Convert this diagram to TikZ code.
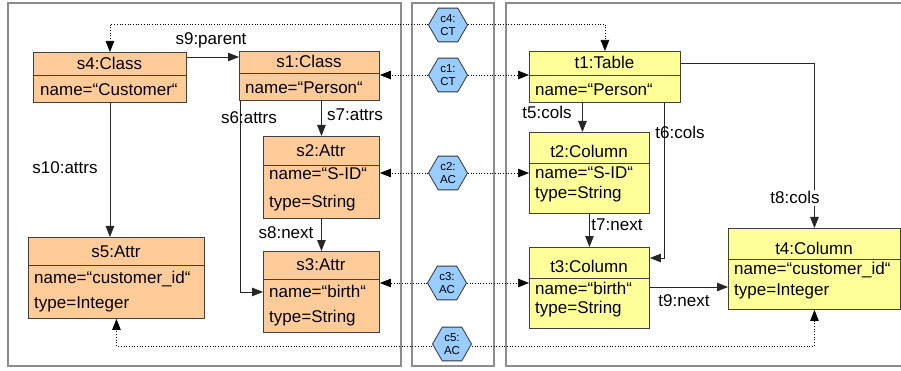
\documentclass[tikz,border=0pt]{standalone}
\usepackage{fontspec}
\setmainfont{Liberation Sans}
\usetikzlibrary{arrows.meta,shapes.geometric}
\definecolor{orng}{HTML}{FFCC99}
\definecolor{yelw}{HTML}{FFFF99}
\definecolor{hexb}{HTML}{99CCFF}
\begin{document}
\begin{tikzpicture}[x=1pt,y=-1pt,
 panel/.style={draw=black!45, line width=1.4pt},
 box/.style={draw=black!75, line width=0.9pt, inner sep=0pt, anchor=north west},
 sbox/.style={box, fill=orng},
 tbox/.style={box, fill=yelw},
 div/.style={draw=black!75, line width=0.9pt},
 ttl/.style={font=\fontsize{17}{20}\selectfont, inner sep=0pt, anchor=base},
 attr/.style={font=\fontsize{17}{20}\selectfont, inner sep=0pt, anchor=base west},
 lbl/.style={font=\fontsize{17}{20}\selectfont, inner sep=0pt, anchor=base},
 conn/.style={draw=black!85, line width=0.8pt},
 arr/.style={conn, -{Triangle[length=11pt,width=8.5pt]}},
 corr/.style={draw=black, line width=0.7pt, dotted},
 carr/.style={corr, -{Triangle[length=11pt,width=8.5pt]}},
 hexa/.style={regular polygon, regular polygon sides=6, minimum size=39pt, inner sep=0pt, draw=black!80, line width=0.8pt, fill=hexb},
 hext/.style={font=\fontsize{11.5}{13.5}\selectfont, align=center, inner sep=0pt}]
\useasboundingbox (0,0) rectangle (901,371);
\fill[white] (0,0) rectangle (901,371);
% panels
\draw[panel] (8,3) rectangle (401,366);
\draw[panel] (412,3) rectangle (494,366);
\draw[panel] (506,3) rectangle (920,366);

% source boxes
\node[sbox, minimum width=153pt, minimum height=50pt] (s4) at (33,52) {};
\draw[div] (s4.west |- 0,75) -- (s4.east |- 0,75);
\node[ttl] (s4h) at (109.5,70) {s4:Class};
\node[attr] (s4a) at (40,96) {name=“Customer“};

\node[sbox, minimum width=140pt, minimum height=49pt] (s1) at (239,51) {};
\draw[div] (s1.west |- 0,73) -- (s1.east |- 0,73);
\node[ttl] (s1h) at (309,68) {s1:Class};
\node[attr] (s1a) at (245,94) {name=“Person“};

\node[sbox, minimum width=116pt, minimum height=82pt] (s2) at (263,136) {};
\draw[div] (s2.west |- 0,165) -- (s2.east |- 0,165);
\node[ttl] (s2h) at (321,157) {s2:Attr};
\node[attr] (s2a) at (269,180) {name=“S-ID“};
\node[attr] (s2b) at (269,208) {type=String};

\node[sbox, minimum width=116pt, minimum height=81pt] (s3) at (263,251) {};
\draw[div] (s3.west |- 0,279) -- (s3.east |- 0,279);
\node[ttl] (s3h) at (321,270) {s3:Attr};
\node[attr] (s3a) at (269,297) {name=“birth“};
\node[attr] (s3b) at (269,322) {type=String};

\node[sbox, minimum width=176pt, minimum height=81pt] (s5) at (28,237) {};
\draw[div] (s5.west |- 0,265) -- (s5.east |- 0,265);
\node[ttl] (s5h) at (116,257) {s5:Attr};
\node[attr] (s5a) at (34,283) {name=“customer\_id“};
\node[attr] (s5b) at (34,308) {type=Integer};

% target boxes
\node[tbox, minimum width=151pt, minimum height=51pt] (t1) at (529,51) {};
\draw[div] (t1.west |- 0,75) -- (t1.east |- 0,75);
\node[ttl] (t1h) at (604.5,69) {t1:Table};
\node[attr] (t1a) at (535,96) {name=“Person“};

\node[tbox, minimum width=120pt, minimum height=81pt] (t2) at (529,132) {};
\draw[div] (t2.west |- 0,163) -- (t2.east |- 0,163);
\node[ttl] (t2h) at (589,158) {t2:Column};
\node[attr] (t2a) at (535,179) {name=“S-ID“};
\node[attr] (t2b) at (535,199) {type=String};

\node[tbox, minimum width=120pt, minimum height=81pt] (t3) at (529,247) {};
\draw[div] (t3.west |- 0,278) -- (t3.east |- 0,278);
\node[ttl] (t3h) at (589,272) {t3:Column};
\node[attr] (t3a) at (535,294) {name=“birth“};
\node[attr] (t3b) at (535,313) {type=String};

\node[tbox, minimum width=172pt, minimum height=81pt] (t4) at (728,228) {};
\draw[div] (t4.west |- 0,259) -- (t4.east |- 0,259);
\node[ttl] (t4h) at (814,254) {t4:Column};
\node[attr] (t4a) at (734,274) {name=“customer\_id“};
\node[attr] (t4b) at (734,295) {type=Integer};

% correspondence hexagons
\node[hexa] (c4) at (448,25) {};
\node[hext] (c4t) at (c4) {c4:\\CT};
\node[hexa] (c1) at (448,75) {};
\node[hext] (c1t) at (c1) {c1:\\CT};
\node[hexa] (c2) at (448,173) {};
\node[hext] (c2t) at (c2) {c2:\\AC};
\node[hexa] (c3) at (447,283) {};
\node[hext] (c3t) at (c3) {c3:\\AC};
\node[hexa] (c5) at (452,344) {};
\node[hext] (c5t) at (c5) {c5:\\AC};

% source edges
\draw[arr] (s4.east |- 0,57) -- (s1.west |- 0,57);
\node[lbl] (l9) at (211,45) {s9:parent};
\draw[arr] (s4.south) -- (s4.south |- s5.north);
\node[lbl] (l10) at (65,174) {s10:attrs};
\draw[arr] (s2.north |- s1.south) -- (s2.north);
\node[lbl] (l7) at (355,121) {s7:attrs};
\draw[arr] ([xshift=1pt]s1.south west) |- (s3.west);
\node[lbl] (l6) at (249,124) {s6:attrs};
\draw[arr] (s2.south) -- (s3.north);
\node[lbl] (l8) at (286,239) {s8:next};

% target edges
\draw[arr] ([xshift=-7pt]t2.north |- t1.south) -- ([xshift=-7pt]t2.north);
\node[lbl] (l5) at (547,119) {t5:cols};
\draw[arr] (t1.south -| 664,0) |- (t3.east |- 0,258);
\node[lbl] (l6t) at (680,139) {t6:cols};
\draw[arr] (t2.south) -- (t3.north);
\node[lbl] (l7t) at (617,230) {t7:next};
\draw[arr] (t1.east |- 0,63) -| (t4.north);
\node[lbl, fill=white, inner xsep=1pt, inner ysep=2pt] (l8t) at (795,204) {t8:cols};
\draw[arr] (t3.east |- 0,287) -- (t4.west |- 0,287);
\node[lbl] (l9t) at (684,306) {t9:next};

% correspondence links
\draw[carr] (c4.west |- 0,24) -| (s4.north);
\draw[carr] (c4.east |- 0,24) -| (t1.north);
\draw[carr] (c1.west) -- (s1.east |- c1.west);
\draw[carr] (c1.east) -- (t1.west |- c1.east);
\draw[carr] (c2.west) -- (s2.east |- c2.west);
\draw[carr] (c2.east) -- (t2.west |- c2.east);
\draw[carr] (c3.west) -- (s3.east |- c3.west);
\draw[carr] (c3.east) -- (t3.west |- c3.east);
\draw[carr] (c5.west |- 0,346) -| (s5.south);
\draw[carr] (c5.east |- 0,346) -| (t4.south);
\end{tikzpicture}
\end{document}
